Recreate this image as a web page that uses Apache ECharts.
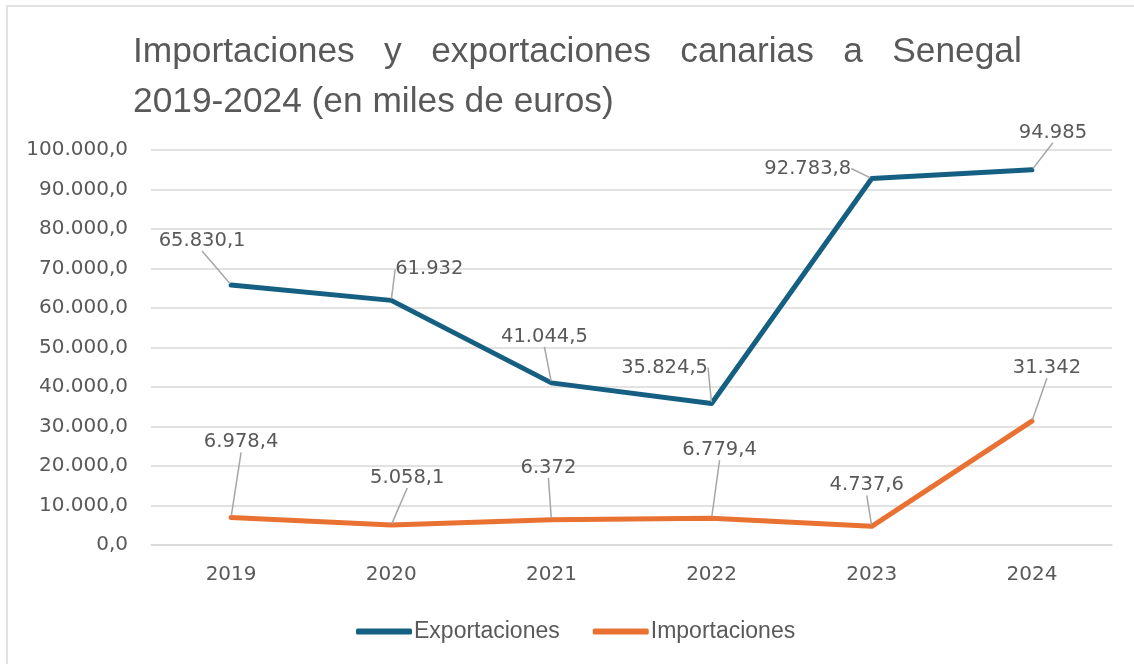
<!DOCTYPE html>
<html>
<head>
<meta charset="utf-8">
<script src="https://cdn.jsdelivr.net/npm/echarts@6/dist/echarts.min.js"></script>
<style>
  html, body { margin: 0; padding: 0; background: #fff; }
  #main { width: 1134px; height: 664px; }
</style>
</head>
<body>
<div id="main"></div>
<script>
const years = ["2019", "2020", "2021", "2022", "2023", "2024"];
const exportaciones = [65830.1, 61932, 41044.5, 35824.5, 92783.8, 94985];
const importaciones = [6978.4, 5058.1, 6372, 6779.4, 4737.6, 31342];

// label offsets from each point (px), tuned by eye
const expOffsets = [[-29, -44], [38, -31], [-7, -46], [-47, -36], [-64, -10], [21, -37]];
const impOffsets = [[10, -75], [16, -47], [-3, -52], [8, -68], [-5, -41], [15, -53]];

const textColor = "#595959";
const font = "Liberation Sans";
const numFont = "DejaVu Sans";

function thousands(n) {
  return String(n).replace(/\B(?=(\d{3})+(?!\d))/g, ".");
}
function fmtLabel(v) {
  if (Number.isInteger(v)) return thousands(v);
  const parts = v.toFixed(1).split(".");
  return thousands(parts[0]) + "," + parts[1];
}
function fmtAxis(v) {
  return thousands(Math.round(v)) + ",0";
}

function makeSeries(name, values, color, offsets) {
  return {
    name: name,
    type: "line",
    data: values,
    symbol: "circle",
    symbolSize: 3,
    itemStyle: { color: color },
    lineStyle: { width: 5, color: color, cap: "round", join: "round" },
    label: {
      show: true,
      position: "inside",
      formatter: (p) => fmtLabel(p.value),
      color: textColor,
      fontFamily: numFont,
      fontSize: 19.5
    },
    labelLine: {
      show: true,
      lineStyle: { color: "#A6A6A6", width: 1.5 }
    },
    labelLayout: (params) => ({
      dx: offsets[params.dataIndex][0],
      dy: offsets[params.dataIndex][1]
    }),
    emphasis: { disabled: true },
    animation: false
  };
}

const options = {
  animation: false,
  textStyle: { fontFamily: font },
  title: {
    text: "Importaciones   y   exportaciones   canarias   a   Senegal\n2019-2024 (en miles de euros)",
    left: 128,
    top: 22,
    textStyle: {
      color: textColor,
      fontFamily: font,
      fontSize: 35.3,
      fontWeight: "normal",
      lineHeight: 50
    }
  },
  graphic: [{
    type: "rect",
    shape: { x: 7, y: 6, width: 1200, height: 700 },
    style: { fill: "none", stroke: "#D9D9D9", lineWidth: 1.5 },
    silent: true
  }],
  legend: {
    left: 351,
    top: 615,
    icon: "roundRect",
    itemWidth: 56,
    itemHeight: 6,
    itemGap: 33,
    textStyle: { color: textColor, fontFamily: font, fontSize: 23, padding: [0, 0, 0, -3] },
    data: ["Exportaciones", "Importaciones"]
  },
  grid: { left: 151, right: 22, top: 150, bottom: 119 },
  xAxis: {
    type: "category",
    data: years,
    boundaryGap: true,
    axisLine: { lineStyle: { color: "#D9D9D9", width: 1.5 } },
    axisTick: { show: false },
    axisLabel: { color: textColor, fontFamily: numFont, fontSize: 20, margin: 20 }
  },
  yAxis: {
    type: "value",
    min: 0,
    max: 100000,
    interval: 10000,
    axisLine: { show: false },
    axisTick: { show: false },
    splitLine: { lineStyle: { color: "#D9D9D9", width: 1.5 } },
    axisLabel: { color: textColor, fontFamily: numFont, fontSize: 20, margin: 23, formatter: fmtAxis }
  },
  series: [
    makeSeries("Exportaciones", exportaciones, "#156082", expOffsets),
    makeSeries("Importaciones", importaciones, "#E97132", impOffsets)
  ]
};

var myChart = echarts.init(document.querySelector("#main"));
myChart.setOption(options);
window.onresize = function() {
  myChart.resize();
};
</script>
</body>
</html>
